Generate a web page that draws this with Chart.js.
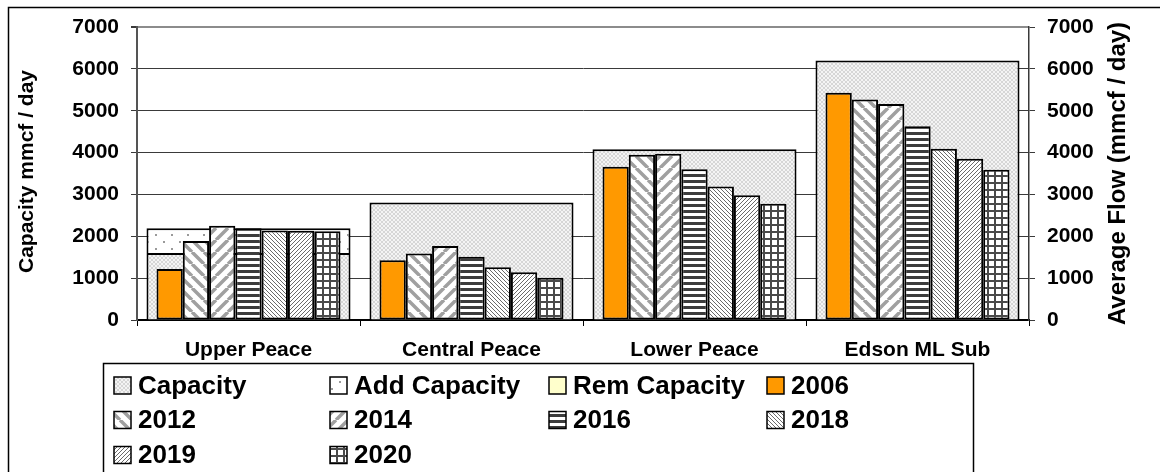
<!DOCTYPE html>
<html>
<head>
<meta charset="utf-8">
<script src="https://cdn.jsdelivr.net/npm/chart.js@4"></script>
<style>
  html, body { margin: 0; padding: 0; background: #fff; }
  #wrap { width: 1160px; height: 472px; }
</style>
</head>
<body>
<div id="wrap"><canvas id="flowChart" width="1160" height="472"></canvas></div>
<script>
(function () {
    // -------- Data --------
    const categories = ["Upper Peace", "Central Peace", "Lower Peace", "Edson ML Sub"];
    const yTicks = [0, 1000, 2000, 3000, 4000, 5000, 6000, 7000];

    const capacity = [1600, 2810, 4080, 6200];
    const addCapacity = [590, null, null, null];
    const remCapacity = [0, 0, 0, 0];

    const flow2006 = [1220, 1430, 3660, 5430];
    const flow2012 = [1890, 1590, 3950, 5270];
    const flow2014 = [2250, 1770, 3970, 5160];
    const flow2016 = [2190, 1510, 3600, 4630];
    const flow2018 = [2140, 1260, 3190, 4090];
    const flow2019 = [2130, 1140, 2980, 3850];
    const flow2020 = [2120, 1010, 2780, 3590];

    const FONT = "'Liberation Sans', Arial, sans-serif";

    // -------- Patterns --------
    function tile(w, h, draw) {
        const c = document.createElement("canvas");
        c.width = w; c.height = h;
        const g = c.getContext("2d");
        g.fillStyle = "#fff";
        g.fillRect(0, 0, w, h);
        draw(g, w, h);
        return g.createPattern(c, "repeat");
    }
    function diag(dir, p, lw, color) {
        return tile(p, p, (g) => {
            g.strokeStyle = color;
            g.lineWidth = lw;
            g.beginPath();
            for (let k = -1; k <= 1; k++) {
                if (dir === "down") { g.moveTo(k * p, 0); g.lineTo(k * p + p, p); }
                else { g.moveTo(k * p, p); g.lineTo(k * p + p, 0); }
            }
            g.stroke();
        });
    }

    // light gray crosshatch
    const patCapacity = tile(4, 4, (g) => {
        g.fillStyle = "#f4f4f4"; g.fillRect(0, 0, 4, 4);
        g.fillStyle = "#d6d6d6";
        for (let i = 0; i < 4; i++) { g.fillRect(i, i, 1, 1); g.fillRect(3 - i, i, 1, 1); }
    });
    const patAdd = tile(16, 14, (g) => {
        g.fillStyle = "#9a9a9a";
        g.fillRect(3, 3, 2, 2); g.fillRect(11, 10, 2, 2);
    });
    const pat2012 = diag("down", 12, 3.5, "#a0a0a0");
    const pat2014 = diag("up", 12, 3.5, "#a0a0a0");
    const pat2016 = tile(6, 6, (g) => { g.fillStyle = "#3c3c3c"; g.fillRect(0, 0, 6, 3); });
    const pat2018 = diag("down", 4, 1, "#6a6a6a");
    const pat2019 = diag("up", 4, 1, "#6a6a6a");
    const pat2020 = tile(7, 7, (g) => {
        g.fillStyle = "#4a4a4a";
        g.fillRect(0, 0, 7, 2); g.fillRect(0, 0, 2, 7);
    });

    // -------- Datasets --------
    // capacity: one wide stacked bar per region, kept out of the year grouping
    const capSet = (label, data, fill) => ({
        label, data, backgroundColor: fill, borderColor: "#000", borderWidth: 2,
        yAxisID: "y", stack: "cap", order: 1, grouped: false,
        categoryPercentage: 0.915, barPercentage: 1
    });
    // yearly average flow: clustered, one slot per year, on the right axis
    const flowSet = (label, data, fill) => ({
        label, data, backgroundColor: fill, borderColor: "#000", borderWidth: 2,
        borderSkipped: false,
        yAxisID: "y2", stack: "y" + label, order: 0,
        categoryPercentage: 0.825, barPercentage: 1
    });

    const datasets = [
        capSet("Capacity", capacity, patCapacity),
        capSet("Add Capacity", addCapacity, patAdd),
        capSet("Rem Capacity", remCapacity, "#ffffcc"),
        flowSet("2006", flow2006, "#ff9900"),
        flowSet("2012", flow2012, pat2012),
        flowSet("2014", flow2014, pat2014),
        flowSet("2016", flow2016, pat2016),
        flowSet("2018", flow2018, pat2018),
        flowSet("2019", flow2019, pat2019),
        flowSet("2020", flow2020, pat2020)
    ];

    // -------- Extras: frame, axis titles, legend --------
    const extras = {
        id: "extras",
        afterDraw(chart) {
            const ctx = chart.ctx;
            const area = chart.chartArea;
            ctx.save();

            // outer frame (top + left edges visible)
            ctx.strokeStyle = "#000";
            ctx.lineWidth = 1.5;
            ctx.beginPath();
            ctx.moveTo(1160, 7.5); ctx.lineTo(8.5, 7.5); ctx.lineTo(8.5, 472);
            ctx.stroke();

            // axis titles (both read bottom-to-top)
            const midY = (area.top + area.bottom) / 2;
            ctx.fillStyle = "#000";
            ctx.textAlign = "center";
            ctx.textBaseline = "middle";
            ctx.save();
            ctx.translate(27, midY - 2);
            ctx.rotate(-Math.PI / 2);
            ctx.font = "bold 21px " + FONT;
            ctx.fillText("Capacity mmcf / day", 0, 0);
            ctx.restore();
            ctx.save();
            ctx.translate(1118, midY);
            ctx.rotate(-Math.PI / 2);
            ctx.font = "bold 24px " + FONT;
            ctx.fillText("Average Flow (mmcf / day)", 0, 0);
            ctx.restore();

            // legend box
            ctx.lineWidth = 1.5;
            ctx.strokeStyle = "#000";
            ctx.strokeRect(103.5, 363.5, 870, 130);
            const cols = [114, 330, 549, 767];
            const rows = [385.5, 420, 455];
            ctx.font = "bold 26px " + FONT;
            ctx.textAlign = "left";
            chart.data.datasets.forEach((ds, i) => {
                const x = cols[i % 4];
                const y = rows[Math.floor(i / 4)];
                ctx.fillStyle = ds.backgroundColor;
                ctx.fillRect(x, y - 8.5, 17, 17);
                ctx.strokeStyle = "#000";
                ctx.lineWidth = 1.5;
                ctx.strokeRect(x, y - 8.5, 17, 17);
                ctx.fillStyle = "#000";
                ctx.fillText(ds.label, x + 24, y + 1);
            });
            ctx.restore();
        }
    };

    const tickFont = { family: FONT, size: 21, weight: "bold" };
    const plain = (v) => String(v);
    const yGrid = {
        color: (c) => (c.tick && c.tick.value === 7000 ? "#8c8c8c" : "#3a3a3a"),
        lineWidth: (c) => (c.tick && c.tick.value === 7000 ? 2 : 1),
        tickColor: "#3a3a3a",
        tickLength: 6
    };

    const canvas = document.getElementById("flowChart");
    new Chart(canvas, {
        type: "bar",
        data: { labels: categories, datasets },
        options: {
            responsive: false,
            animation: false,
            events: [],
            layout: { padding: { top: 27, left: 0, right: 0, bottom: 0 } },
            plugins: { legend: { display: false }, tooltip: { enabled: false } },
            scales: {
                x: {
                    stacked: true,
                    offset: true,
                    afterFit: (s) => { s.height = 152; },
                    grid: { drawOnChartArea: false, offset: true, tickLength: 6, color: "#000" },
                    border: { color: "#000", width: 2 },
                    ticks: { color: "#000", font: { family: FONT, size: 21, weight: "bold" }, padding: 12, maxRotation: 0 }
                },
                y: {
                    stacked: true,
                    min: 0, max: 7000,
                    afterFit: (s) => { s.width = 137; },
                    afterBuildTicks: (s) => { s.ticks = yTicks.map(v => ({ value: v })); },
                    grid: yGrid,
                    border: { color: "#555", width: 2 },
                    ticks: { color: "#000", font: tickFont, padding: 12, callback: plain }
                },
                y2: {
                    position: "right",
                    stacked: false,
                    min: 0, max: 7000,
                    afterFit: (s) => { s.width = 131; },
                    afterBuildTicks: (s) => { s.ticks = yTicks.map(v => ({ value: v })); },
                    grid: { drawOnChartArea: false, tickLength: 6, color: "#3a3a3a" },
                    border: { color: "#3a3a3a", width: 1.5 },
                    ticks: { color: "#000", font: tickFont, padding: 12, callback: plain }
                }
            }
        },
        plugins: [extras]
    });
})();
</script>
</body>
</html>
